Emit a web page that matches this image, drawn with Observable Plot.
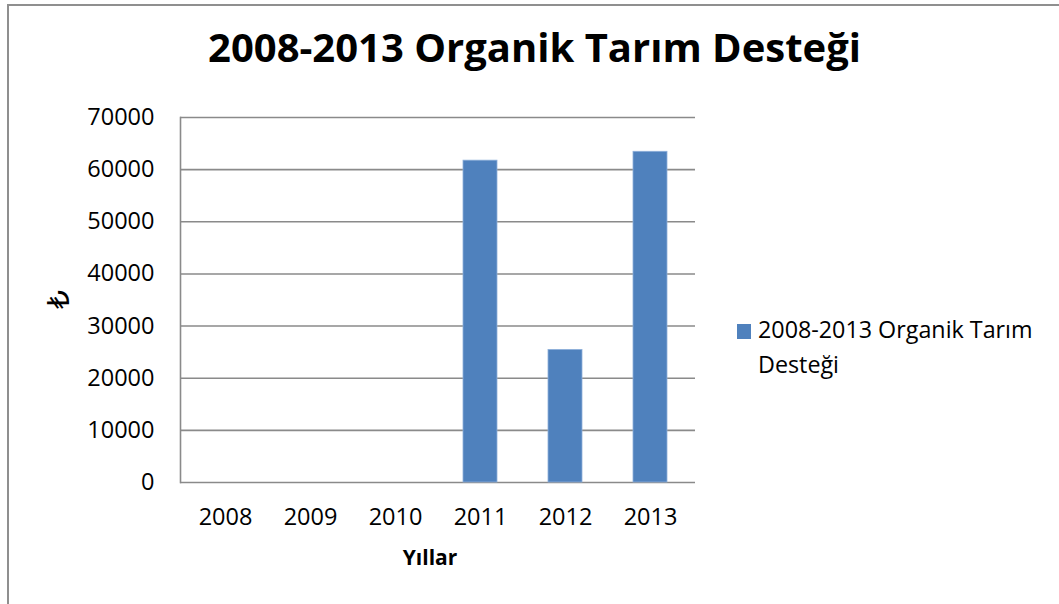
<!DOCTYPE html>
<html>
<head>
<meta charset="utf-8">
<script src="https://cdn.jsdelivr.net/npm/d3@7"></script>
<script src="https://cdn.jsdelivr.net/npm/@observablehq/plot@0.6"></script>
<style>
  html, body { margin: 0; padding: 0; background: #fff; }
  #wrap { position: relative; width: 1059px; height: 604px; overflow: hidden; background: #fff; font-family: "Open Sans", "DejaVu Sans", sans-serif; }
  #border { position: absolute; left: 7px; top: 4px; width: 1200px; height: 800px; border-left: 2px solid #8f8f8f; border-top: 2px solid #8f8f8f; }
  #title { position: absolute; left: 0; top: 23px; width: 1069px; text-align: center; font-weight: 700; font-size: 40px; line-height: 48px; color: #000; }
  #chart { position: absolute; left: 0; top: 100px; }
  #legend { position: absolute; left: 737px; top: 312px; font-size: 23.3px; line-height: 35px; color: #000; }
  #legend .sw { display: inline-block; width: 14px; height: 15px; background: #4F81BD; margin-right: 7px; vertical-align: -1px; }
  #legend .l2 { padding-left: 21px; }
</style>
</head>
<body>
<div id="wrap">
  <div id="border"></div>
  <div id="title"></div>
  <div id="chart"></div>
  <div id="legend"></div>
</div>
<script>
const chartTitle = "2008-2013 Organik Tarım Desteği";
const seriesName = "2008-2013 Organik Tarım Desteği";
const years = ["2008", "2009", "2010", "2011", "2012", "2013"];
const values = [0, 0, 0, 61800, 25500, 63500];
const yTicks = [0, 10000, 20000, 30000, 40000, 50000, 60000, 70000];
const xLabel = "Yıllar";
const yLabel = "₺";
const barColor = "#4F81BD";

const data = years.map((y, i) => ({year: y, value: values[i]}));

document.getElementById("title").textContent = chartTitle;
document.getElementById("legend").innerHTML =
  '<div><span class="sw"></span>2008-2013 Organik Tarım</div><div class="l2">Desteği</div>';

const chart = Plot.plot({
  width: 720,
  height: 504,
  marginLeft: 180,
  marginRight: 25,
  marginTop: 17,
  marginBottom: 122,
  style: { fontFamily: '"Open Sans", "DejaVu Sans", sans-serif', fontSize: "23.5px", color: "#000", background: "transparent" },
  x: { type: "band", domain: years, paddingInner: 0.6, paddingOuter: 0.3, label: null },
  y: { domain: [0, 70000], label: null },
  marks: [
    Plot.ruleY(yTicks, { stroke: "#8a8a8a", strokeWidth: 1.6 }),
    Plot.frame({ anchor: "left", stroke: "#8a8a8a", strokeWidth: 1.6 }),
    Plot.barY(data, { x: "year", y: "value", fill: barColor, stroke: "#8eb0da", strokeWidth: 0.8, insetTop: 0.4 }),
    Plot.axisY({ ticks: yTicks, tickSize: 0, tickPadding: 26, tickFormat: d => String(d), label: null, fontSize: 23.5 }),
    Plot.axisX({ tickSize: 0, tickPadding: 26, label: null, fontSize: 23.5 }),
    Plot.text([yLabel], { frameAnchor: "left", dx: -121, dy: 9, rotate: -90, fontSize: 30, text: d => d }),
    Plot.text([xLabel], { frameAnchor: "bottom", dy: 82, dx: -8, fontWeight: "bold", fontSize: 21, text: d => d })
  ]
});
document.getElementById("chart").appendChild(chart);
</script>
</body>
</html>
